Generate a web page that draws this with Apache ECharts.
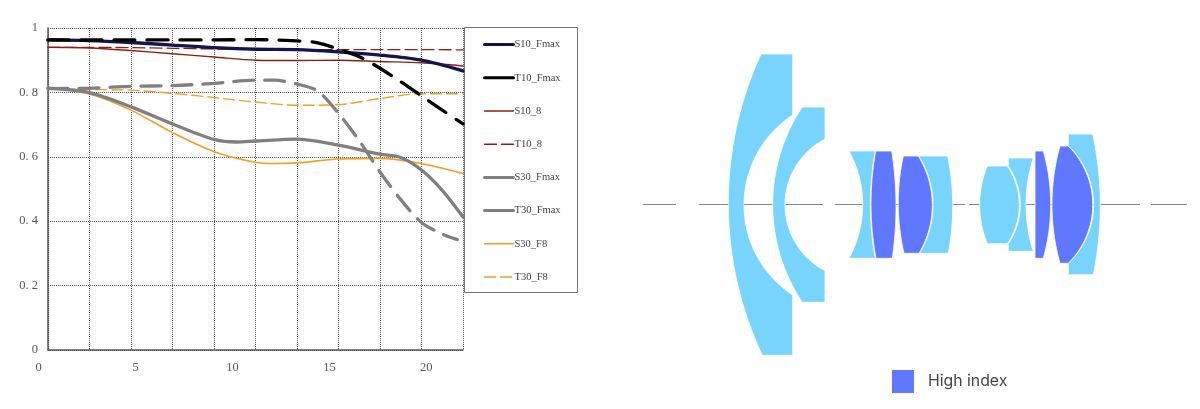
<!DOCTYPE html>
<html><head><meta charset="utf-8">
<style>html,body{margin:0;padding:0;background:#fff}#c{width:1200px;height:409px}</style>
<script src="https://cdn.jsdelivr.net/npm/echarts@6/dist/echarts.min.js"></script>
</head><body><div id="c"></div>
<script>
const imageHeights = [0, 2.2, 4.4, 6.6, 8.8, 11, 13.2, 15.4, 17.6, 19.8, 22];
const S10_Fmax = [.963,.961,.955,.947,.939,.934,.933,.926,.916,.900,.867];
const S10_8    = [.940,.938,.930,.920,.910,.900,.899,.900,.896,.892,.882];
const T10_8    = [.940,.940,.939,.937,.935,.933,.933,.933,.933,.933,.932];
const S30_F8_x = [0,2.2,4.4,6.6,8.8,11,12,13.2,15.4,17.6,19.8,22];
const S30_F8   = [.813,.795,.745,.675,.616,.583,.579,.581,.593,.595,.579,.548];
const T30_F8   = [.812,.809,.807,.797,.784,.770,.760,.762,.781,.796,.796];
const T30_F8_x = [0,2.2,4.4,6.6,8.8,11,13.2,15.4,17.6,19.8,22];
const T10_Fmax_x = [0,2.2,4.4,6.6,8.8,11,13.2,14.3,15.4,16.5,17.6,18.7,19.8,20.9,22];
const T10_Fmax   = [.963,.963,.963,.963,.963,.964,.960,.954,.934,.911,.875,.833,.789,.745,.702];
const S30_Fmax_x = [0,2.2,4.4,6.6,8.8,10,11,13.2,15.4,17.6,18.7,19.8,20.9,22];
const S30_Fmax   = [.813,.799,.755,.702,.654,.646,.649,.655,.636,.608,.598,.559,.496,.413];
const T30_Fmax_x = [0,2.2,4.4,6.6,8.8,11,12,13.2,14.3,15.4,16.5,17.6,18.7,19.8,20.9,21.7];
const T30_Fmax   = [.812,.813,.819,.821,.828,.838,.838,.826,.804,.735,.65,.553,.467,.396,.36,.343];
const xTickLabels = {0:'0',5:'5',10:'10',15:'15',20:'20'};
const yTickLabels = {0:'0',0.2:'0. 2',0.4:'0. 4',0.6:'0. 6',0.8:'0. 8',1:'1'};

const opticalAxis = [[643,204.5],[676,204.5],['-','-'],[699,204.5],[823,204.5],['-','-'],[835,204.5],[965,204.5],['-','-'],[969,204.5],[1140,204.5],['-','-'],[1151,204.5],[1187,204.5]];
// outlines: a point with a third element 1 is the mid-point of a curved edge
const lightLenses = [
 [[761,54],[792.7,54],[792.7,115],[744,204,1],[792.7,295],[792.7,355.3],[762.3,355.3],[728.3,204,1]],
 [[802.3,107],[825,107],[825,139],[785,204,1],[825,270.7],[825,302.3],[802.3,302.3],[772.7,204,1]],
 [[849,151],[875.2,151],[870.4,204,1],[875.2,258.3],[849,258.3],[862.7,204,1]],
 [[918.8,156],[947.7,156],[952.7,204,1],[948.3,253.3],[919.5,253.3],[933,204,1]],
 [[987.3,166],[1007.3,166],[1019.3,204,1],[1007.3,243.7],[987.3,243.7],[979.7,204,1]],
 [[1008.3,158],[1033.3,158],[1026,204,1],[1033.3,251.3],[1008.3,251.3],[1008.3,243.7],[1020.3,204,1],[1008.3,166]],
 [[1068.3,134],[1092.7,134],[1100.3,204,1],[1093.3,274.7],[1068.3,274.7],[1068.3,263.3],[1093.6,204,1],[1068.3,146]]
];
const darkLenses = [
 [[875.7,151],[891.7,151],[896,204,1],[892.3,258.3],[876,258.3],[871,204,1]],
 [[903.3,156],[918.3,156],[932.3,204,1],[919,253.3],[904,253.3],[898.3,204,1]],
 [[1035,151],[1043.3,151],[1050.7,204,1],[1043.3,258.3],[1035,258.3]],
 [[1060,146],[1068.3,146],[1092.7,204,1],[1068.3,263.3],[1060,263.3],[1052,204,1]]
];
const lightColor = '#78d4fd', darkColor = '#6078ff';

// circular arc from a through m to b, as a list of intermediate points
function arc(a, m, b){
  const d = 2*(a[0]*(m[1]-b[1]) + m[0]*(b[1]-a[1]) + b[0]*(a[1]-m[1]));
  const s = p => p[0]*p[0]+p[1]*p[1];
  const cx = (s(a)*(m[1]-b[1]) + s(m)*(b[1]-a[1]) + s(b)*(a[1]-m[1]))/d;
  const cy = (s(a)*(b[0]-m[0]) + s(m)*(a[0]-b[0]) + s(b)*(m[0]-a[0]))/d;
  const r = Math.hypot(a[0]-cx, a[1]-cy);
  const a0 = Math.atan2(a[1]-cy, a[0]-cx);
  let sweep = Math.atan2(b[1]-cy, b[0]-cx) - a0;
  while (sweep > Math.PI) sweep -= 2*Math.PI;
  while (sweep < -Math.PI) sweep += 2*Math.PI;
  const out = [];
  for (let k = 1; k < 32; k++){
    const t = a0 + sweep*k/32;
    out.push([cx + r*Math.cos(t), cy + r*Math.sin(t)]);
  }
  return out;
}
function outline(points, api){
  const out = [];
  const n = points.length;
  for (let i = 0; i < n; i++){
    const p = points[i];
    if (p[2]) continue;
    out.push(p);
    const v = points[(i+1)%n];
    if (v[2]) out.push(...arc(p, v, points[(i+2)%n]));
  }
  return out.map(q => api.coord(q));
}
function lensSeries(name, list, color){
  return {
    name, type:'custom', coordinateSystem:'cartesian2d', xAxisIndex:2, yAxisIndex:2, clip:false, z:5,
    itemStyle:{color}, silent:true,
    data:list.map((_,i)=>[i,0]),
    renderItem:(params, api)=>({
      type:'polygon',
      shape:{points:outline(list[params.dataIndex], api)},
      style:{fill:color, stroke:'#ffffff', lineWidth:0.8}
    })
  };
}
const zip = (xs, ys) => xs.map((x,i)=>[x,ys[i]]);
function curve(name, xs, ys, color, width, dash){
  return {name, type:'line', xAxisIndex:0, yAxisIndex:0, data:zip(xs,ys), smooth:0.3, symbol:'none', silent:true,
    lineStyle:{color, width, type:dash||'solid', cap:'round'}, itemStyle:{color}};
}
const mtfSeries = [
  curve('S30_F8', S30_F8_x, S30_F8, '#f0a020', 1.6),
  curve('T30_F8', T30_F8_x, T30_F8, '#f0a020', 1.4, [11,5]),
  curve('S30_Fmax', S30_Fmax_x, S30_Fmax, '#808080', 3.3),
  curve('T30_Fmax', T30_Fmax_x, T30_Fmax, '#808080', 3.3, [20,11]),
  curve('S10_8', imageHeights, S10_8, '#8a2010', 1.4),
  curve('T10_8', imageHeights, T10_8, '#8a2010', 1.3, [12,5]),
  curve('S10_Fmax', imageHeights, S10_Fmax, '#14144f', 3.3),
  curve('T10_Fmax', T10_Fmax_x, T10_Fmax, '#000000', 3.3, [21,12])
];
const legendNames = ['S10_Fmax','T10_Fmax','S10_8','T10_8','S30_Fmax','T30_Fmax','S30_F8','T30_F8'];
const solidInLegend = {T10_Fmax:1, T30_Fmax:1};
const thickInLegend = {S10_Fmax:1, T10_Fmax:1, S30_Fmax:1, T30_Fmax:1};

const chart = echarts.init(document.getElementById('c'), null, {renderer:'canvas'});
const labelFont = {fontFamily:'"Liberation Serif"', fontSize:12.5, color:'#555'};
chart.setOption({
  animation:false,
  backgroundColor:'#fff',
  graphic:[{type:'rect', z:1, shape:{x:464.5,y:27.5,width:113,height:265}, style:{fill:'#fff',stroke:'#777',lineWidth:1}}],
  legend:[{
    orient:'vertical', left:483, top:39, itemWidth:29, itemHeight:14, itemGap:22, padding:0, selectedMode:false, z:5,
    textStyle:{fontFamily:'"Liberation Serif"', fontSize:10.5, color:'#444', padding:[0,0,0,-4]},
    data:legendNames.map(n=>({name:n, itemStyle:{opacity:0},
      lineStyle:Object.assign({width:thickInLegend[n]?3:1.5}, solidInLegend[n]?{type:'solid'}:{})}))
  },{
    orient:'horizontal', left:892, top:370, itemWidth:22, itemHeight:23, padding:0, selectedMode:false,
    textStyle:{fontFamily:'Inter', fontSize:15.8, color:'#444', padding:[0,0,0,9]},
    data:[{name:'High index', icon:'rect'}]
  }],
  grid:[
    {left:48, top:28, width:415, height:322},
    {left:38.7, top:28, width:426.4, height:322},
    {left:0, top:0, width:1200, height:409}
  ],
  xAxis:[
    {gridIndex:0, type:'value', min:0, max:22, interval:2.2,
     axisLine:{lineStyle:{color:'#555',width:1.5}}, axisTick:{show:false}, axisLabel:{show:false},
     splitLine:{show:true, lineStyle:{color:'#555',type:'dotted',width:1}}},
    {gridIndex:1, type:'value', min:0, max:22, interval:5,
     axisLine:{show:false}, axisTick:{show:false}, splitLine:{show:false},
     axisLabel:Object.assign({margin:11, showMaxLabel:false, formatter:v=>xTickLabels[v]||''}, labelFont)},
    {gridIndex:2, type:'value', min:0, max:1200, show:false, splitLine:{show:false}}
  ],
  yAxis:[
    {gridIndex:0, type:'value', min:0, max:1, interval:0.2,
     axisLine:{show:true, lineStyle:{color:'#555',width:1.5}}, axisTick:{show:false},
     axisLabel:Object.assign({margin:10, padding:[2,0,0,0], formatter:v=>yTickLabels[+v.toFixed(1)]}, labelFont),
     splitLine:{show:true, lineStyle:{color:'#555',type:'dotted',width:1}}},
    {gridIndex:1, type:'value', min:0, max:1, show:false, splitLine:{show:false}},
    {gridIndex:2, type:'value', min:0, max:409, inverse:true, show:false, splitLine:{show:false}}
  ],
  series:[
    ...mtfSeries,
    {name:'Optical axis', type:'line', xAxisIndex:2, yAxisIndex:2, data:opticalAxis, symbol:'none', silent:true, z:1,
     connectNulls:false, lineStyle:{color:'#888',width:1}},
    lensSeries('Lens', lightLenses, lightColor),
    lensSeries('High index', darkLenses, darkColor)
  ]
});
</script></body></html>
